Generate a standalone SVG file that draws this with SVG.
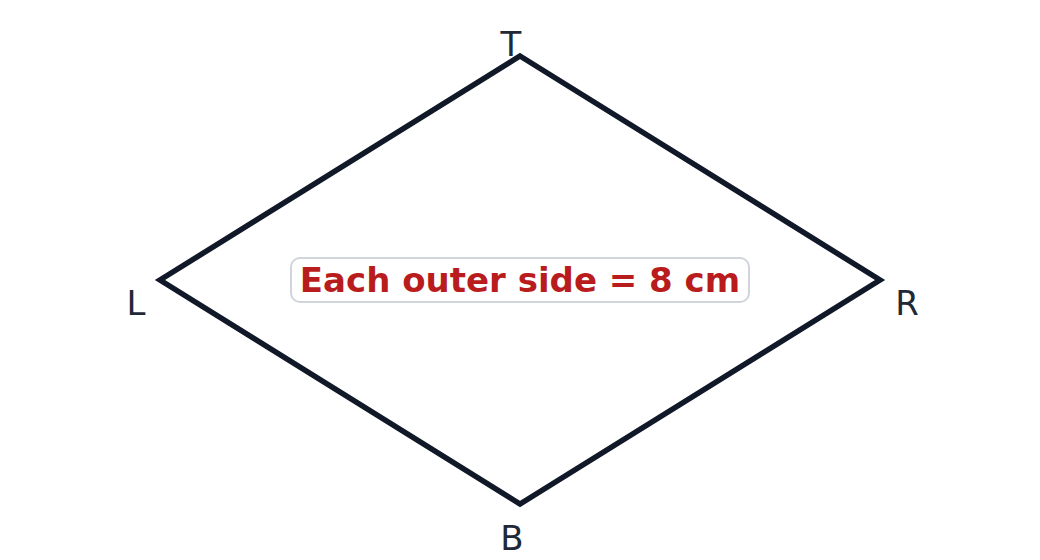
<svg xmlns="http://www.w3.org/2000/svg" width="1040" height="560" viewBox="0 0 1040 560">
<style>
.edge{stroke:#111827;stroke-width:5.5;fill:none;stroke-linejoin:miter}
.vlabel{font-family:"DejaVu Sans",sans-serif;font-size:34px;fill:#1f2937;text-anchor:middle}
.note{font-family:"DejaVu Sans",sans-serif;font-weight:bold;font-size:34px;fill:#b91c1c;text-anchor:middle}
</style>
<rect width="1040" height="560" fill="#ffffff"/>
<g id="connectors">
<path class="edge" d="M520,56 L880,280 L520,504 L160,280 Z"/>
</g>
<g id="node-T"><text class="vlabel" x="511" y="56">T</text></g>
<g id="node-R"><text class="vlabel" x="907" y="315">R</text></g>
<g id="node-B"><text class="vlabel" x="512" y="550">B</text></g>
<g id="node-L"><text class="vlabel" x="136" y="315">L</text></g>
<g id="label">
<rect x="291" y="258" width="458" height="44" rx="9" fill="#ffffff" stroke="#d1d5db" stroke-width="2"/>
<text class="note" x="520" y="292">Each outer side = 8 cm</text>
</g>
</svg>
